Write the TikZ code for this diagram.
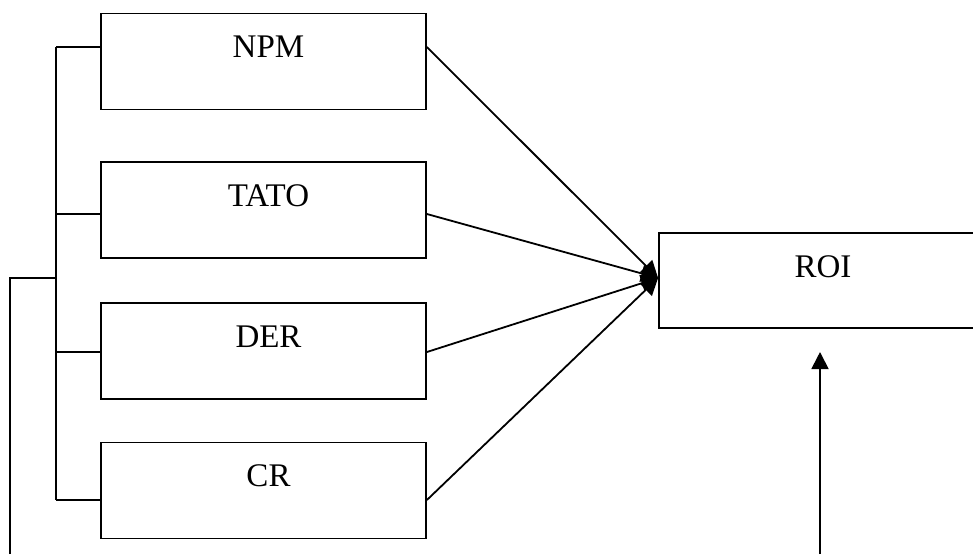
\documentclass[tikz,border=0pt]{standalone}
\usepackage{fontspec}
\setmainfont{Liberation Serif}
\usetikzlibrary{arrows.meta,calc}

\begin{document}
\begin{tikzpicture}[x=0.5pt, y=-0.5pt,
  ratio/.style={rectangle, draw, line width=0.9pt, minimum width=162.5pt,
    minimum height=48pt, inner sep=0pt, text height=22pt, text depth=26pt,
    font=\fontsize{16.5}{20}\selectfont},
  link/.style={line width=0.9pt},
  arrow/.style={-{Triangle[width=8.5pt,length=8.5pt]}, line width=0.9pt}
]
\useasboundingbox (0,0) rectangle (973,554);

\node[ratio] (NPM)  at (263.5,61.5)  {\hspace{5pt}NPM};
\node[ratio] (TATO) at (263.5,210)   {\hspace{5pt}TATO};
\node[ratio] (DER)  at (263.5,351)   {\hspace{5pt}DER};
\node[ratio] (CR)   at (263.5,490.5) {\hspace{5pt}CR};

\node[ratio, minimum width=164pt, minimum height=47.5pt, text depth=25.5pt]
  (ROI) at (823,280.5) {ROI};

% points where the lines leave the boxes
\coordinate (npmR)  at ($(NPM.east)+(0,-14.5)$);
\coordinate (tatoR) at ($(TATO.east)+(0,4)$);
\coordinate (derR)  at ($(DER.east)+(0,1)$);
\coordinate (crR)   at ($(CR.east)+(0,9.5)$);
\coordinate (hub)   at ($(ROI.west)+(0,-2.5)$);

% left bracket
\coordinate (spineT) at (56,47);
\coordinate (spineB) at (56,500);
\coordinate (spineM) at (56,278);
\draw[link] (spineT) -- (spineB);
\draw[link] (spineT) -- (NPM.west |- npmR);
\draw[link] (spineT |- tatoR) -- (TATO.west |- tatoR);
\draw[link] (spineT |- derR) -- (DER.west |- derR);
\draw[link] (spineB) -- (CR.west |- crR);

\draw[arrow] (npmR)  -- (hub);
\draw[arrow] (tatoR) -- (hub);
\draw[arrow] (derR)  -- (hub);
\draw[arrow] (crR)   -- (hub);

% feedback lines at the bottom
\coordinate (loopL) at (10,554);
\coordinate (loopR) at (820,554);
\coordinate (roiIn) at (820,352);
\draw[link] (loopL) |- (spineM);
\draw[arrow] (loopR) -- (roiIn);
\end{tikzpicture}
\end{document}
